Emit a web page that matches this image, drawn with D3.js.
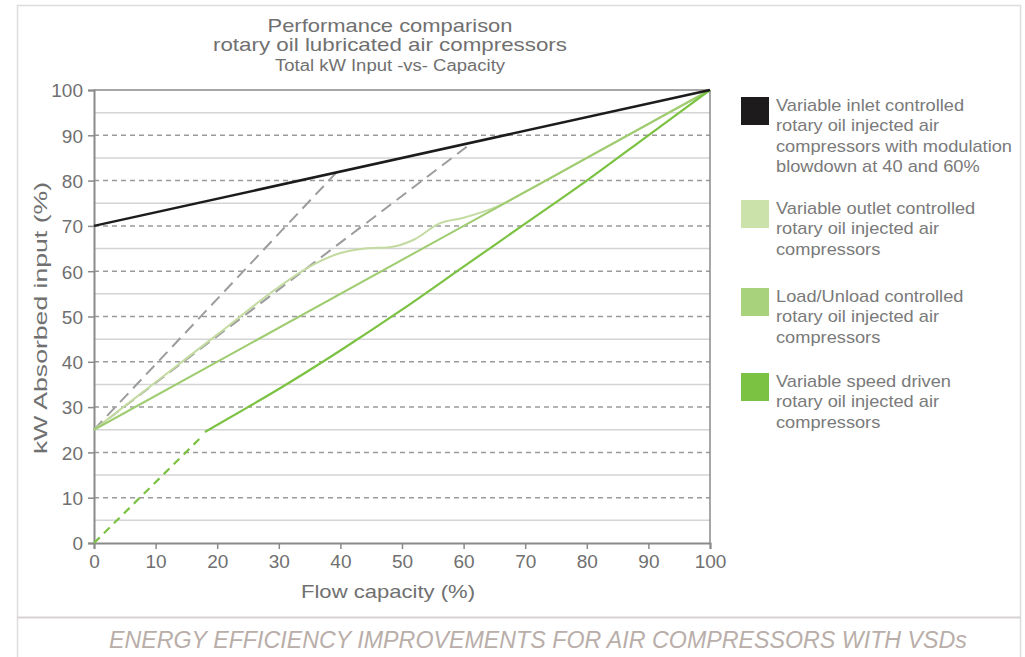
<!DOCTYPE html>
<html>
<head>
<meta charset="utf-8">
<script src="https://cdn.jsdelivr.net/npm/d3@7"></script>
<style>
  body { margin: 0; background: #fff; }
  svg { display: block; font-family: "Liberation Sans", Arial, Helvetica, sans-serif; }
</style>
</head>
<body>
<svg id="chart" width="1025" height="657"></svg>
<script>
// Valeurs (x = capacité %, y = puissance absorbée %)
const xTicks = [0, 10, 20, 30, 40, 50, 60, 70, 80, 90, 100];
const yTicks = [0, 10, 20, 30, 40, 50, 60, 70, 80, 90, 100];
const yMinor = [5, 15, 25, 35, 45, 55, 65, 75, 85, 95];

const inletX = [0, 100];
const inletY = [70, 100];

const blow40X = [0, 39.5];
const blow40Y = [25, 82];
const blow60X = [0, 61.5];
const blow60Y = [25, 88.5];

const outletX = [0, 10, 20, 30, 35, 40, 44, 48, 52, 56, 60, 65.5, 70, 80, 90, 100];
const outletY = [25, 35.5, 46, 56.5, 61, 64, 65, 65.3, 67, 70.5, 71.8, 74.3, 77.5, 85, 92.5, 100];

const loadX = [0, 100];
const loadY = [25, 100];

const vsdStartX = [0, 17.5];
const vsdStartY = [0, 23.5];
const vsdX = [18, 25, 30, 40, 50, 60, 70, 80, 90, 100];
const vsdY = [24.5, 30, 34, 42.5, 51.5, 61, 70.5, 80, 90, 100];

const legendLabels = [
  ["Variable inlet controlled", "rotary oil injected air", "compressors with modulation", "blowdown at 40 and 60%"],
  ["Variable outlet controlled", "rotary oil injected air", "compressors"],
  ["Load/Unload controlled", "rotary oil injected air", "compressors"],
  ["Variable speed driven", "rotary oil injected air", "compressors"]
];
const legendColors = ["#1e1b1c", "#cbe2ab", "#a9d27c", "#7cc242"];

// Dimensions
const svg = d3.select("#chart");
const x = d3.scaleLinear().domain([0, 100]).range([94, 710]);
const y = d3.scaleLinear().domain([0, 100]).range([543, 90]);
const textGrey = "#707070";

// Cadre extérieur
svg.append("rect").attr("x", 17.5).attr("y", 5.5).attr("width", 1003).attr("height", 660)
  .attr("fill", "none").attr("stroke", "#dcdcdc").attr("stroke-width", 1.5);
svg.append("line").attr("x1", 17).attr("x2", 1021).attr("y1", 617.5).attr("y2", 617.5)
  .attr("stroke", "#d6d2d2").attr("stroke-width", 2);

// Titres
const titles = [
  {t: "Performance comparison", y: 32, s: 19, w: 245},
  {t: "rotary oil lubricated air compressors", y: 51, s: 19, w: 354},
  {t: "Total kW Input -vs- Capacity", y: 71, s: 16, w: 230}
];
svg.selectAll(".title").data(titles).enter().append("text")
  .attr("class", "title")
  .attr("x", 390).attr("y", d => d.y)
  .attr("text-anchor", "middle")
  .attr("font-size", d => d.s + "px")
  .attr("textLength", d => d.w).attr("lengthAdjust", "spacingAndGlyphs")
  .attr("fill", textGrey)
  .text(d => d.t);

// Grille
const grid = svg.append("g");
grid.selectAll(".minor").data(yMinor).enter().append("line")
  .attr("x1", x(0)).attr("x2", x(100))
  .attr("y1", d => y(d)).attr("y2", d => y(d))
  .attr("stroke", "#d4d4d4").attr("stroke-width", 1.5);
grid.selectAll(".major").data(yTicks.filter(d => d > 0 && d < 100)).enter().append("line")
  .attr("x1", x(0)).attr("x2", x(100))
  .attr("y1", d => y(d)).attr("y2", d => y(d))
  .attr("stroke", "#9a9a9a").attr("stroke-width", 1.5)
  .attr("stroke-dasharray", "5,4");

// Bordures du graphique
grid.append("line").attr("x1", x(0)).attr("x2", x(100)).attr("y1", y(100)).attr("y2", y(100))
  .attr("stroke", "#8a8a8a").attr("stroke-width", 1.5);
grid.append("line").attr("x1", x(100)).attr("x2", x(100)).attr("y1", y(100)).attr("y2", y(0))
  .attr("stroke", "#8a8a8a").attr("stroke-width", 1.5);

// Axes
const xAxis = svg.append("g").attr("transform", `translate(0,${y(0)})`)
  .call(d3.axisBottom(x).tickValues(xTicks).tickSize(6).tickPadding(6));
const yAxis = svg.append("g").attr("transform", `translate(${x(0)},0)`)
  .call(d3.axisLeft(y).tickValues(yTicks).tickSize(6).tickPadding(5));
[xAxis, yAxis].forEach(a => {
  a.select(".domain").attr("stroke", "#8a8a8a").attr("stroke-width", 2);
  a.selectAll(".tick line").attr("stroke", "#8a8a8a").attr("stroke-width", 1.5);
  a.selectAll(".tick text").attr("fill", textGrey).attr("font-size", "19px")
    .attr("font-family", "Liberation Sans, Arial, sans-serif");
});
yAxis.selectAll(".tick text").attr("dy", "0.36em");

svg.append("text").attr("x", 388).attr("y", 598).attr("text-anchor", "middle")
  .attr("font-size", "19px").attr("fill", textGrey)
  .attr("textLength", 174).attr("lengthAdjust", "spacingAndGlyphs")
  .text("Flow capacity (%)");
svg.append("text").attr("transform", "translate(47,318) rotate(-90)").attr("text-anchor", "middle")
  .attr("font-size", "19px").attr("fill", textGrey)
  .attr("textLength", 272).attr("lengthAdjust", "spacingAndGlyphs")
  .text("kW Absorbed input (%)");

// Courbes
const line = d3.line().x(d => x(d[0])).y(d => y(d[1]));
const smooth = d3.line().x(d => x(d[0])).y(d => y(d[1])).curve(d3.curveMonotoneX);
const zip = (a, b) => a.map((v, i) => [v, b[i]]);

const plot = svg.append("g");
plot.append("path").datum(zip(blow40X, blow40Y)).attr("d", line)
  .attr("fill", "none").attr("stroke", "#9c9c9c").attr("stroke-width", 2).attr("stroke-dasharray", "12,7");
plot.append("path").datum(zip(blow60X, blow60Y)).attr("d", line)
  .attr("fill", "none").attr("stroke", "#9c9c9c").attr("stroke-width", 2).attr("stroke-dasharray", "12,7");

plot.append("path").datum(zip(outletX, outletY)).attr("d", smooth)
  .attr("fill", "none").attr("stroke", "#c3dba0").attr("stroke-width", 2);
plot.append("path").datum(zip(loadX, loadY)).attr("d", line)
  .attr("fill", "none").attr("stroke", "#9fcc70").attr("stroke-width", 2);
plot.append("path").datum(zip(vsdStartX, vsdStartY)).attr("d", line)
  .attr("fill", "none").attr("stroke", "#7cc242").attr("stroke-width", 2.2).attr("stroke-dasharray", "8,6");
plot.append("path").datum(zip(vsdX, vsdY)).attr("d", smooth)
  .attr("fill", "none").attr("stroke", "#7cc242").attr("stroke-width", 2.2);
plot.append("path").datum(zip(inletX, inletY)).attr("d", line)
  .attr("fill", "none").attr("stroke", "#1e1b1c").attr("stroke-width", 2.5);

// Légende
const legendTop = [97, 200, 288, 373];
const legend = svg.append("g");
legendLabels.forEach((lines, i) => {
  legend.append("rect").attr("x", 741).attr("y", legendTop[i]).attr("width", 28).attr("height", 28)
    .attr("fill", legendColors[i]);
  legend.append("text")
    .attr("transform", `translate(776,${legendTop[i] + 14}) scale(1.14,1)`)
    .attr("font-size", "16px").attr("fill", "#7a7a7a")
    .selectAll("tspan").data(lines).enter().append("tspan")
    .attr("x", 0).attr("dy", (d, j) => j === 0 ? 0 : 20.3)
    .text(d => d);
});

// Légende du bas
svg.append("text").attr("x", 538).attr("y", 648).attr("text-anchor", "middle")
  .attr("font-size", "23px").attr("font-style", "italic").attr("fill", "#b9aea9")
  .attr("textLength", 858).attr("lengthAdjust", "spacingAndGlyphs")
  .text("ENERGY EFFICIENCY IMPROVEMENTS FOR AIR COMPRESSORS WITH VSDs");
</script>
</body>
</html>
